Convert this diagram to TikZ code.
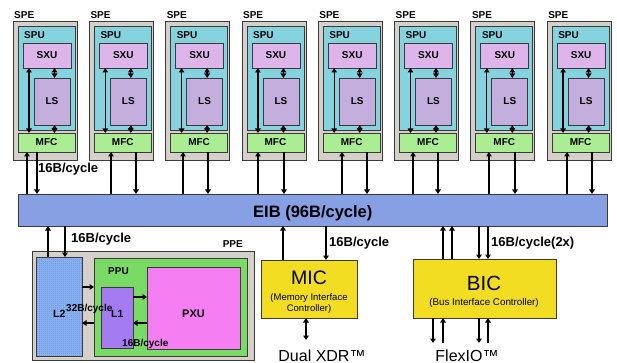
\documentclass[tikz,border=0pt]{standalone}
\usepackage{fontspec}
\setmainfont{Liberation Sans}
\usetikzlibrary{arrows.meta}
\definecolor{spegray}{HTML}{D6D0CB}
\definecolor{spucyan}{HTML}{84D3DF}
\definecolor{sxupink}{HTML}{DEB5EA}
\definecolor{lslav}{HTML}{C3AEDD}
\definecolor{mfcgreen}{HTML}{ABED93}
\definecolor{eibblue}{HTML}{87A0E3}
\definecolor{ltwoblue}{HTML}{6B9BEA}
\definecolor{ppugreen}{HTML}{79DB65}
\definecolor{pxumag}{HTML}{F57FF2}
\definecolor{lonepurple}{HTML}{A57BF2}
\definecolor{ctrlyellow}{HTML}{F3DD22}
\definecolor{boxline}{HTML}{3A3A3A}
\begin{document}
\begin{tikzpicture}[x=1pt,y=-1pt,
  box/.style={draw=boxline, line width=0.8pt, inner sep=0pt, outer sep=0pt, anchor=north west},
  arr/.style={-{Triangle[length=4.5pt,width=5.5pt]}, line width=1.3pt},
  darr/.style={{Triangle[length=4.5pt,width=5.5pt]}-{Triangle[length=4.5pt,width=5.5pt]}, line width=1.3pt},
  lbl/.style={font=\bfseries\fontsize{10}{12}\selectfont, inner sep=0pt, anchor=base west},
  inlbl/.style={font=\bfseries\fontsize{10}{12}\selectfont},
  rate/.style={font=\bfseries\fontsize{13}{15}\selectfont, inner sep=0pt, anchor=base west},
  smallrate/.style={font=\bfseries\fontsize{10}{11}\selectfont, inner sep=0pt, anchor=base west},
  plain/.style={inner sep=0pt, anchor=base}
]
\useasboundingbox (0,0) rectangle (617,363);

% EIB bus
\node[box, fill=eibblue, minimum width=589pt, minimum height=32pt] (eib) at (18,194) {};
\node[inner sep=0pt, anchor=base west, font=\bfseries\fontsize{16.5}{18}\selectfont] (eiblbl) at (253,217) {EIB (96B/cycle)};

% SPEs
\foreach \i/\u/\d in {0/27/37, 1/111/136, 2/183/208, 3/258/284, 4/342/367, 5/413/438, 6/489/515, 7/567/592} {
  \pgfmathsetmacro\L{13+76.3*\i}
  \pgfmathsetmacro\xa{\L+41.5}
  \pgfmathsetmacro\xb{\L+16}
  \node[box, fill=spegray, minimum width=64pt, minimum height=139pt] (spe\i) at (\L,21) {};
  \node[lbl] (spelbl\i) at (\L+1,19) {SPE};
  \node[box, fill=spucyan, minimum width=57pt, minimum height=104pt] (spu\i) at (\L+5,26) {};
  \node[lbl] (spulbl\i) at (\L+11,39) {SPU};
  \node[box, fill=sxupink, minimum width=48pt, minimum height=25pt] (sxu\i) at (\L+10,43) {};
  \node[inlbl] (sxulbl\i) at (sxu\i.center) {SXU};
  \node[box, fill=lslav, minimum width=36pt, minimum height=47pt] (ls\i) at (\L+21,78) {};
  \node[inlbl] (lslbl\i) at (ls\i.center) {LS};
  \node[box, fill=mfcgreen, minimum width=57pt, minimum height=19pt] (mfc\i) at (\L+5,133) {};
  \node[inlbl] (mfclbl\i) at (mfc\i.center) {MFC};
  \draw[darr] (\xa,0 |- sxu\i.south) -- (\xa,0 |- ls\i.north);
  \draw[darr] (\xa,0 |- ls\i.south) -- (\xa,0 |- mfc\i.north);
  \draw[darr] (\xb,0 |- sxu\i.south) -- (\xb,0 |- mfc\i.north);
  \draw[arr] (\u,0 |- eib.north) -- (\u,0 |- mfc\i.south);
  \draw[arr] (\d,0 |- mfc\i.south) -- (\d,0 |- eib.north);
}
\node[rate] (speRate) at (38,173) {16B/cycle};

% PPE
\node[box, fill=spegray, minimum width=222pt, minimum height=109pt] (ppe) at (32,251) {};
\node[lbl, anchor=base east] (ppelbl) at (243,247) {PPE};
\node[box, fill=ltwoblue, minimum width=46pt, minimum height=99pt] (l2) at (36,257) {};
\begin{scope}
  \clip (l2.north west) rectangle (l2.south east);
  \draw[white, opacity=0.22, line width=0.3pt, step=2pt] (l2.north west) grid (l2.south east);
\end{scope}
\draw[boxline, line width=0.8pt] (l2.north west) rectangle (l2.south east);
\node[box, fill=ppugreen, minimum width=153pt, minimum height=98pt] (ppu) at (94,258) {};
\node[lbl] (ppulbl) at (108,274) {PPU};
\node[box, fill=pxumag, minimum width=93pt, minimum height=82pt] (pxu) at (147,267) {};
\node[lbl, anchor=base, font=\bfseries\fontsize{11}{12}\selectfont] (pxulbl) at (193.5,317) {PXU};
\node[box, fill=lonepurple, minimum width=32pt, minimum height=61pt] (l1) at (101,287) {};
\node[lbl, font=\bfseries\fontsize{10.5}{12}\selectfont] (l2lbl) at (53,317) {L2};
\node[lbl, font=\bfseries\fontsize{10.5}{12}\selectfont] (l1lbl) at (111,317) {L1};
\node[smallrate] (l2rate) at (66,311) {32B/cycle};
\node[smallrate] (l1rate) at (122,346) {16B/cycle};
\draw[arr] (l2.east |- 0,287) -- (ppu.west |- 0,287);
\draw[arr] (ppu.west |- 0,323) -- (l2.east |- 0,323);
\draw[arr] (l1.east |- 0,297) -- (pxu.west |- 0,297);
\draw[arr] (pxu.west |- 0,323) -- (l1.east |- 0,323);
\draw[arr] (48,0 |- l2.north) -- (48,0 |- eib.south);
\draw[arr] (65,0 |- eib.south) -- (65,0 |- l2.north);
\node[rate] (ppeRate) at (71,242) {16B/cycle};

% MIC
\node[box, fill=ctrlyellow, minimum width=96pt, minimum height=58pt] (mic) at (261,260) {};
\node[plain, font=\fontsize{19.5}{21}\selectfont] (miclbl) at (309,284) {MIC};
\node[plain, font=\fontsize{9.5}{11}\selectfont] (micsub1) at (309,300) {(Memory Interface};
\node[plain, font=\fontsize{9.5}{11}\selectfont] (micsub2) at (309,311) {Controller)};
\draw[arr] (283,0 |- mic.north) -- (283,0 |- eib.south);
\draw[arr] (326,0 |- eib.south) -- (326,0 |- mic.north);
\node[rate] (micRate) at (329,246) {16B/cycle};
\coordinate (xdr) at (306,340);
\draw[darr] (306,0 |- mic.south) -- (xdr);
\node[plain, font=\fontsize{16}{18}\selectfont] (xdrlbl) at (322,361) {Dual XDR™};

% BIC
\node[box, fill=ctrlyellow, minimum width=143pt, minimum height=59pt] (bic) at (413,259) {};
\node[plain, font=\fontsize{20.5}{22}\selectfont] (biclbl) at (484,290) {BIC};
\node[plain, font=\fontsize{9.8}{11}\selectfont] (bicsub) at (484,305) {(Bus Interface Controller)};
\foreach \x in {443,452} { \draw[arr] (\x,0 |- bic.north) -- (\x,0 |- eib.south); }
\foreach \x in {479,488} { \draw[arr] (\x,0 |- eib.south) -- (\x,0 |- bic.north); }
\node[rate] (bicRate) at (491,246) {16B/cycle(2x)};
\foreach \x in {433,479} {
  \coordinate (fo\x) at (\x,343);
  \draw[arr] (\x,0 |- bic.south) -- (fo\x);
}
\foreach \x in {443,488} {
  \coordinate (fi\x) at (\x,343);
  \draw[arr] (fi\x) -- (\x,0 |- bic.south);
}
\node[plain, font=\fontsize{16}{18}\selectfont] (flexlbl) at (467,361) {FlexIO™};
\end{tikzpicture}
\end{document}
